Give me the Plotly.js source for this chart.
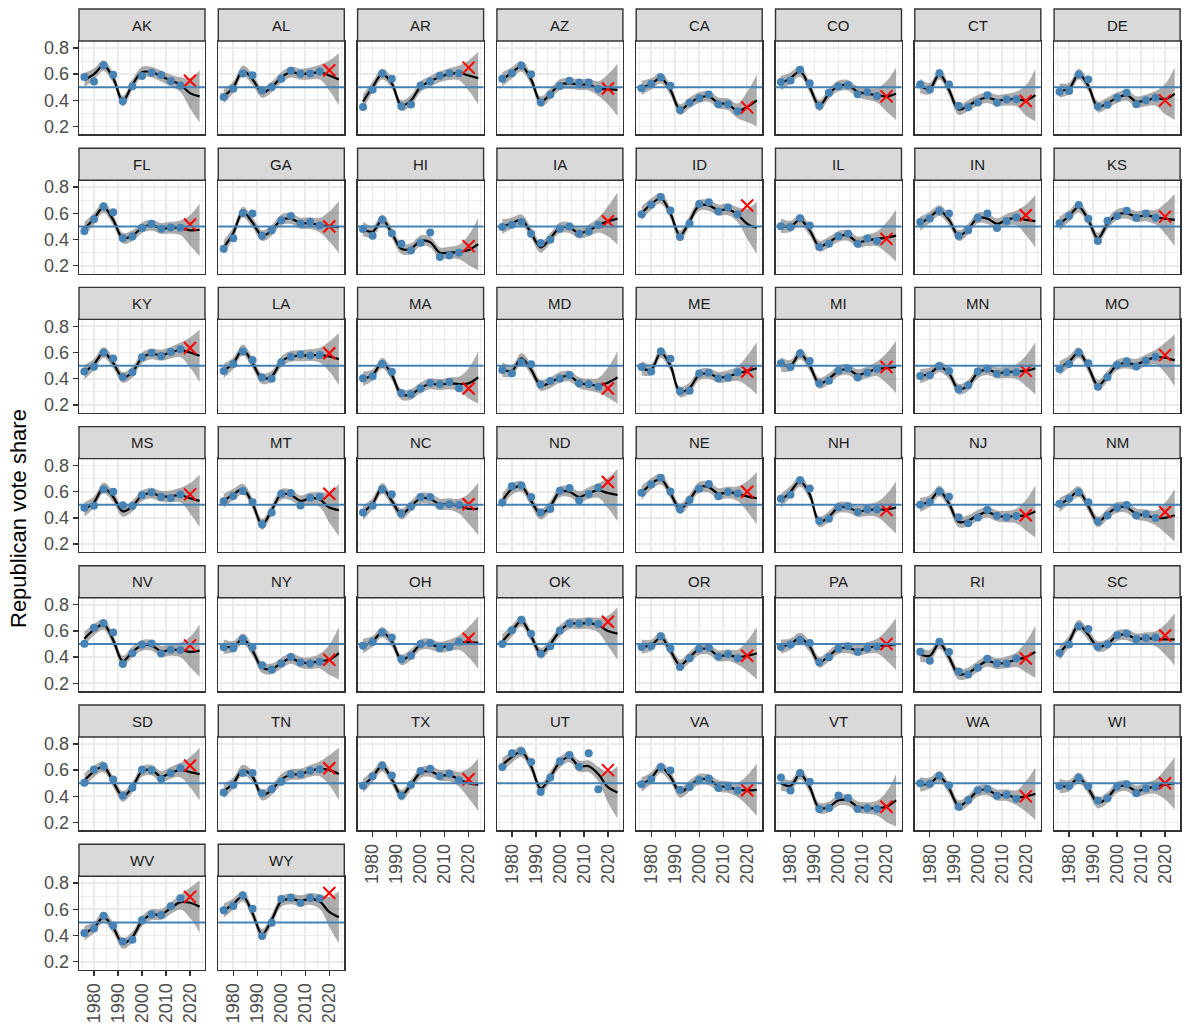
<!DOCTYPE html>
<html>
<head>
<meta charset="utf-8">
<script src="https://cdn.plot.ly/plotly-3.0.1.min.js"></script>
<style>html,body{margin:0;padding:0;background:#fff;}#chart{width:1185px;height:1032px;}</style>
</head>
<body>
<div id="chart"></div>
<script>
const states = ["AK","AL","AR","AZ","CA","CO","CT","DE","FL","GA","HI","IA","ID","IL","IN","KS","KY","LA","MA","MD","ME","MI","MN","MO","MS","MT","NC","ND","NE","NH","NJ","NM","NV","NY","OH","OK","OR","PA","RI","SC","SD","TN","TX","UT","VA","VT","WA","WI","WV","WY"];

const years = [1976,1980,1984,1988,1992,1996,2000,2004,2008,2012,2016];

const voteShare = [
[0.579,0.544,0.667,0.596,0.395,0.508,0.586,0.611,0.594,0.548,0.513],
[0.426,0.488,0.605,0.592,0.476,0.501,0.565,0.625,0.603,0.605,0.621],
[0.349,0.481,0.605,0.564,0.355,0.368,0.513,0.543,0.587,0.606,0.606],
[0.564,0.606,0.664,0.600,0.385,0.443,0.510,0.549,0.536,0.537,0.487],
[0.493,0.527,0.575,0.511,0.326,0.382,0.417,0.444,0.370,0.371,0.316],
[0.540,0.551,0.634,0.531,0.359,0.458,0.508,0.517,0.447,0.461,0.433],
[0.521,0.482,0.607,0.520,0.358,0.347,0.384,0.439,0.382,0.407,0.409],
[0.466,0.472,0.598,0.559,0.353,0.366,0.419,0.458,0.370,0.400,0.419],
[0.466,0.555,0.653,0.609,0.409,0.423,0.488,0.521,0.482,0.491,0.490],
[0.330,0.410,0.602,0.598,0.429,0.470,0.547,0.580,0.522,0.533,0.508],
[0.481,0.429,0.551,0.448,0.367,0.316,0.375,0.453,0.266,0.278,0.300],
[0.495,0.513,0.533,0.445,0.373,0.399,0.482,0.499,0.444,0.462,0.511],
[0.593,0.665,0.724,0.621,0.420,0.522,0.672,0.684,0.615,0.645,0.593],
[0.501,0.496,0.562,0.507,0.343,0.368,0.426,0.445,0.368,0.407,0.388],
[0.533,0.560,0.617,0.598,0.429,0.471,0.566,0.599,0.488,0.541,0.568],
[0.525,0.579,0.663,0.558,0.389,0.543,0.580,0.620,0.566,0.597,0.567],
[0.456,0.491,0.600,0.555,0.413,0.449,0.565,0.596,0.574,0.605,0.625],
[0.460,0.512,0.608,0.543,0.410,0.399,0.526,0.567,0.586,0.578,0.581],
[0.404,0.419,0.512,0.454,0.290,0.281,0.325,0.368,0.360,0.375,0.328],
[0.467,0.442,0.525,0.511,0.356,0.383,0.402,0.429,0.365,0.359,0.339],
[0.489,0.456,0.608,0.553,0.304,0.308,0.440,0.446,0.404,0.410,0.449],
[0.518,0.490,0.592,0.536,0.364,0.385,0.461,0.478,0.410,0.447,0.475],
[0.420,0.426,0.495,0.459,0.319,0.350,0.455,0.476,0.438,0.450,0.449],
[0.475,0.512,0.600,0.518,0.339,0.412,0.504,0.533,0.494,0.538,0.568],
[0.477,0.494,0.619,0.599,0.497,0.492,0.576,0.595,0.562,0.553,0.579],
[0.528,0.568,0.605,0.521,0.351,0.441,0.584,0.591,0.495,0.554,0.562],
[0.442,0.493,0.619,0.580,0.434,0.487,0.560,0.560,0.494,0.504,0.498],
[0.517,0.642,0.648,0.560,0.442,0.469,0.607,0.629,0.533,0.583,0.630],
[0.592,0.655,0.706,0.602,0.466,0.537,0.622,0.659,0.565,0.598,0.587],
[0.547,0.577,0.687,0.625,0.376,0.394,0.481,0.489,0.445,0.464,0.465],
[0.501,0.520,0.601,0.562,0.406,0.359,0.403,0.462,0.417,0.406,0.414],
[0.508,0.549,0.597,0.519,0.373,0.419,0.478,0.498,0.418,0.428,0.400],
[0.502,0.625,0.659,0.589,0.347,0.429,0.495,0.505,0.427,0.457,0.455],
[0.475,0.467,0.538,0.475,0.339,0.306,0.352,0.401,0.360,0.352,0.365],
[0.487,0.515,0.589,0.550,0.384,0.410,0.500,0.508,0.469,0.477,0.517],
[0.500,0.605,0.686,0.579,0.426,0.483,0.603,0.656,0.656,0.668,0.653],
[0.478,0.483,0.559,0.466,0.325,0.391,0.465,0.472,0.404,0.422,0.391],
[0.477,0.496,0.533,0.507,0.361,0.400,0.464,0.484,0.442,0.466,0.482],
[0.441,0.372,0.517,0.439,0.290,0.268,0.319,0.387,0.351,0.352,0.389],
[0.431,0.496,0.636,0.615,0.480,0.498,0.568,0.580,0.539,0.546,0.549],
[0.504,0.605,0.630,0.529,0.407,0.465,0.603,0.599,0.532,0.579,0.615],
[0.429,0.487,0.578,0.579,0.424,0.456,0.511,0.568,0.569,0.595,0.607],
[0.480,0.553,0.636,0.560,0.406,0.488,0.593,0.611,0.555,0.572,0.522],
[0.624,0.728,0.745,0.662,0.434,0.544,0.668,0.715,0.626,0.728,0.455],
[0.493,0.530,0.623,0.597,0.450,0.471,0.525,0.537,0.463,0.473,0.444],
[0.544,0.444,0.579,0.511,0.304,0.311,0.407,0.388,0.304,0.310,0.303],
[0.500,0.497,0.558,0.485,0.320,0.373,0.446,0.456,0.405,0.413,0.381],
[0.478,0.479,0.542,0.478,0.368,0.385,0.476,0.493,0.423,0.459,0.472],
[0.419,0.453,0.551,0.475,0.354,0.368,0.519,0.561,0.557,0.623,0.685],
[0.593,0.626,0.705,0.605,0.397,0.498,0.678,0.689,0.648,0.686,0.682]
];

const year2020 = 2020;
const share2020 = [0.55,0.63,0.65,0.49,0.346,0.43,0.395,0.40,0.515,0.50,0.35,0.54,0.66,0.405,0.585,0.575,0.635,0.595,0.325,0.325,0.455,0.49,0.46,0.58,0.58,0.585,0.505,0.675,0.60,0.46,0.42,0.445,0.49,0.38,0.54,0.67,0.41,0.50,0.39,0.565,0.635,0.615,0.53,0.60,0.447,0.32,0.40,0.50,0.695,0.725];

const fitYears = [1976,1980,1984,1988,1992,1996,2000,2004,2008,2012,2016,2020,2024];

const fitValues = [
[0.555,0.600,0.665,0.570,0.395,0.520,0.615,0.615,0.585,0.550,0.520,0.455,0.430],
[0.430,0.500,0.625,0.560,0.460,0.500,0.575,0.615,0.600,0.605,0.615,0.590,0.560],
[0.390,0.500,0.600,0.530,0.360,0.400,0.505,0.545,0.580,0.600,0.610,0.590,0.570],
[0.560,0.610,0.660,0.560,0.390,0.450,0.520,0.530,0.520,0.520,0.490,0.485,0.480],
[0.495,0.525,0.570,0.480,0.330,0.380,0.420,0.430,0.380,0.370,0.320,0.350,0.400],
[0.530,0.570,0.620,0.500,0.360,0.450,0.510,0.515,0.465,0.450,0.440,0.430,0.450],
[0.510,0.490,0.600,0.480,0.330,0.360,0.400,0.420,0.400,0.405,0.410,0.400,0.440],
[0.475,0.490,0.600,0.510,0.350,0.380,0.420,0.440,0.390,0.400,0.415,0.410,0.450],
[0.480,0.560,0.645,0.550,0.410,0.430,0.490,0.510,0.485,0.490,0.490,0.470,0.475],
[0.340,0.450,0.610,0.530,0.430,0.470,0.550,0.560,0.525,0.525,0.510,0.500,0.495],
[0.480,0.460,0.550,0.450,0.330,0.330,0.390,0.380,0.300,0.300,0.305,0.320,0.365],
[0.500,0.525,0.550,0.450,0.340,0.410,0.490,0.490,0.450,0.470,0.510,0.540,0.560],
[0.600,0.670,0.715,0.600,0.430,0.540,0.660,0.660,0.625,0.630,0.590,0.520,0.490],
[0.505,0.500,0.550,0.470,0.350,0.380,0.425,0.430,0.380,0.395,0.405,0.415,0.430],
[0.520,0.570,0.620,0.550,0.430,0.480,0.565,0.560,0.520,0.550,0.565,0.550,0.540],
[0.520,0.580,0.650,0.550,0.410,0.520,0.590,0.600,0.575,0.585,0.570,0.560,0.550],
[0.450,0.510,0.600,0.520,0.410,0.450,0.560,0.590,0.580,0.600,0.620,0.600,0.575],
[0.460,0.520,0.620,0.520,0.400,0.420,0.530,0.570,0.575,0.580,0.580,0.570,0.550],
[0.400,0.430,0.520,0.430,0.280,0.280,0.330,0.360,0.355,0.365,0.360,0.365,0.410],
[0.470,0.460,0.555,0.470,0.350,0.370,0.410,0.420,0.370,0.355,0.350,0.370,0.410],
[0.480,0.470,0.600,0.500,0.300,0.330,0.430,0.440,0.410,0.420,0.440,0.460,0.480],
[0.510,0.500,0.590,0.500,0.365,0.400,0.460,0.470,0.430,0.450,0.475,0.480,0.490],
[0.420,0.440,0.490,0.440,0.320,0.350,0.445,0.470,0.445,0.450,0.455,0.460,0.480],
[0.480,0.530,0.600,0.490,0.350,0.420,0.505,0.520,0.510,0.540,0.565,0.560,0.540],
[0.465,0.520,0.630,0.560,0.450,0.490,0.570,0.590,0.565,0.565,0.575,0.550,0.530],
[0.530,0.580,0.620,0.510,0.350,0.460,0.580,0.575,0.530,0.550,0.540,0.480,0.460],
[0.440,0.510,0.625,0.530,0.430,0.490,0.550,0.545,0.505,0.505,0.490,0.470,0.470],
[0.530,0.620,0.640,0.530,0.430,0.490,0.600,0.600,0.560,0.590,0.610,0.590,0.575],
[0.590,0.660,0.695,0.590,0.470,0.540,0.635,0.635,0.585,0.595,0.585,0.565,0.550],
[0.530,0.600,0.680,0.580,0.370,0.410,0.480,0.480,0.450,0.460,0.465,0.465,0.480],
[0.500,0.530,0.605,0.510,0.370,0.380,0.420,0.445,0.415,0.410,0.415,0.420,0.450],
[0.500,0.550,0.600,0.490,0.370,0.430,0.480,0.480,0.430,0.420,0.400,0.400,0.420],
[0.540,0.610,0.650,0.530,0.370,0.440,0.490,0.490,0.445,0.455,0.455,0.440,0.450],
[0.480,0.480,0.540,0.450,0.320,0.310,0.355,0.390,0.360,0.355,0.370,0.380,0.430],
[0.485,0.520,0.590,0.520,0.380,0.420,0.495,0.500,0.475,0.490,0.510,0.515,0.510],
[0.520,0.600,0.675,0.560,0.430,0.500,0.600,0.655,0.655,0.660,0.645,0.600,0.580],
[0.480,0.490,0.550,0.450,0.340,0.400,0.460,0.460,0.410,0.415,0.400,0.410,0.430],
[0.480,0.500,0.545,0.480,0.360,0.410,0.465,0.470,0.450,0.470,0.485,0.490,0.500],
[0.420,0.410,0.505,0.400,0.270,0.280,0.330,0.370,0.350,0.360,0.380,0.400,0.440],
[0.430,0.520,0.645,0.570,0.480,0.500,0.565,0.570,0.540,0.545,0.540,0.535,0.535],
[0.520,0.590,0.625,0.510,0.400,0.470,0.590,0.600,0.550,0.580,0.600,0.585,0.570],
[0.440,0.500,0.600,0.550,0.410,0.450,0.530,0.565,0.570,0.595,0.610,0.600,0.570],
[0.480,0.550,0.630,0.530,0.410,0.490,0.580,0.590,0.560,0.560,0.530,0.500,0.490],
[0.640,0.700,0.740,0.630,0.460,0.550,0.660,0.700,0.630,0.630,0.570,0.470,0.430],
[0.490,0.540,0.620,0.550,0.430,0.480,0.530,0.525,0.480,0.470,0.450,0.445,0.450],
[0.500,0.480,0.570,0.470,0.310,0.320,0.370,0.370,0.320,0.310,0.310,0.320,0.370],
[0.490,0.500,0.550,0.460,0.330,0.370,0.440,0.450,0.410,0.410,0.390,0.400,0.420],
[0.480,0.480,0.540,0.460,0.350,0.390,0.470,0.480,0.440,0.460,0.475,0.490,0.500],
[0.420,0.460,0.540,0.460,0.340,0.390,0.510,0.560,0.560,0.610,0.655,0.650,0.620],
[0.590,0.640,0.700,0.570,0.410,0.520,0.660,0.680,0.665,0.680,0.660,0.580,0.540]
];

// half-width of the confidence ribbon at each fitYears entry
const bandHalf = [0.055,0.043,0.041,0.041,0.041,0.041,0.041,0.041,0.042,0.045,0.056,0.115,0.2];

const xTicks = [1980,1990,2000,2010,2020];
const yTicks = [0.2,0.4,0.6,0.8];

// ---------- layout geometry (pixels) ----------
const W = 1185, H = 1032;
const NCOL = 8;
const COL0 = 79, COLSTEP = 139.3, PW = 126;
const ROW0 = 9, ROWSTEP = 139.2, STRIPH = 32, PH = 93.4;
const XR = [1973.75, 2026.25], YR = [0.14, 0.853];
const FONT = "Liberation Sans, Arial, Helvetica, sans-serif";

const traces = [];
const layout = {
  width: W, height: H,
  margin: {l:0, r:0, t:0, b:0, pad:0},
  paper_bgcolor: "#ffffff", plot_bgcolor: "#ffffff",
  showlegend: false,
  font: {family: FONT, color: "#4D4D4D"},
  shapes: [], annotations: []
};

states.forEach((st, i) => {
  const r = Math.floor(i / NCOL), c = i % NCOL;
  const left = COL0 + c * COLSTEP;
  const stripTop = ROW0 + r * ROWSTEP;
  const pTop = stripTop + STRIPH, pBot = pTop + PH;
  const n = i === 0 ? "" : String(i + 1);
  const xa = "x" + n, ya = "y" + n;
  const showX = i + NCOL >= states.length;
  const showY = c === 0;

  layout["xaxis" + n] = {
    domain: [left / W, (left + PW) / W], anchor: ya, range: XR,
    tickmode: "array", tickvals: xTicks, ticktext: xTicks.map(String),
    showgrid: true, gridcolor: "#EBEBEB", gridwidth: 1.7,
    minor: {tickmode: "array", tickvals: [1975,1985,1995,2005,2015,2025], showgrid: true, gridcolor: "#EBEBEB", gridwidth: 0.9, ticks: ""},
    zeroline: false, showline: true, mirror: true, linecolor: "#333333", linewidth: 1.4,
    ticks: showX ? "outside" : "", ticklen: 5, tickwidth: 1.3, tickcolor: "#333333",
    showticklabels: showX, tickangle: -90,
    tickfont: {family: FONT, size: 18, color: "#4D4D4D"}, fixedrange: true
  };
  layout["yaxis" + n] = {
    domain: [1 - pBot / H, 1 - pTop / H], anchor: xa, range: YR,
    tickmode: "array", tickvals: yTicks, ticktext: yTicks.map(v => v.toFixed(1)),
    showgrid: true, gridcolor: "#EBEBEB", gridwidth: 1.7,
    minor: {tickmode: "array", tickvals: [0.3,0.5,0.7], showgrid: true, gridcolor: "#EBEBEB", gridwidth: 0.9, ticks: ""},
    zeroline: false, showline: true, mirror: true, linecolor: "#333333", linewidth: 1.4,
    ticks: showY ? "outside" : "", ticklen: 5, tickwidth: 1.3, tickcolor: "#333333",
    showticklabels: showY,
    tickfont: {family: FONT, size: 18, color: "#4D4D4D"}, fixedrange: true
  };

  const fit = fitValues[i];
  const lower = fit.map((v, k) => v - bandHalf[k]);
  const upper = fit.map((v, k) => v + bandHalf[k]);

  traces.push({x: fitYears, y: lower, xaxis: xa, yaxis: ya, mode: "lines",
    line: {width: 0, shape: "spline", color: "rgba(0,0,0,0)"}, hoverinfo: "skip"});
  traces.push({x: fitYears, y: upper, xaxis: xa, yaxis: ya, mode: "lines", fill: "tonexty",
    fillcolor: "rgba(105,105,105,0.55)",
    line: {width: 0, shape: "spline", color: "rgba(0,0,0,0)"}, hoverinfo: "skip"});
  traces.push({x: fitYears, y: fit, xaxis: xa, yaxis: ya, mode: "lines",
    line: {width: 2.2, shape: "spline", color: "#000000"}, hoverinfo: "skip"});
  traces.push({x: years, y: voteShare[i], xaxis: xa, yaxis: ya, mode: "markers",
    marker: {color: "#4682B4", size: 8}, hoverinfo: "x+y"});
  traces.push({x: [year2020], y: [share2020[i]], xaxis: xa, yaxis: ya, mode: "markers",
    marker: {symbol: "x-thin-open", color: "#FF0000", size: 12, line: {color: "#FF0000", width: 2}}, hoverinfo: "x+y"});

  // reference line at 0.5
  layout.shapes.push({type: "line", xref: xa + " domain", yref: ya, x0: 0, x1: 1, y0: 0.5, y1: 0.5,
    line: {color: "#4682B4", width: 2}, layer: "above"});
  // strip
  layout.shapes.push({type: "rect", xref: "paper", yref: "paper",
    x0: left / W, x1: (left + PW) / W, y0: 1 - pTop / H, y1: 1 - stripTop / H,
    fillcolor: "#D9D9D9", line: {color: "#333333", width: 1.4}, layer: "above"});
  layout.annotations.push({text: st, xref: "paper", yref: "paper",
    x: (left + PW / 2) / W, y: 1 - (stripTop + STRIPH / 2) / H, showarrow: false,
    xanchor: "center", yanchor: "middle", font: {family: FONT, size: 15, color: "#1A1A1A"}});
});

layout.annotations.push({text: "Republican vote share", xref: "paper", yref: "paper",
  x: 18 / W, y: 1 - 519 / H, showarrow: false, textangle: -90,
  xanchor: "center", yanchor: "middle", font: {family: FONT, size: 22, color: "#000000"}});

Plotly.newPlot("chart", traces, layout, {displayModeBar: false, staticPlot: true});
</script>
</body>
</html>
